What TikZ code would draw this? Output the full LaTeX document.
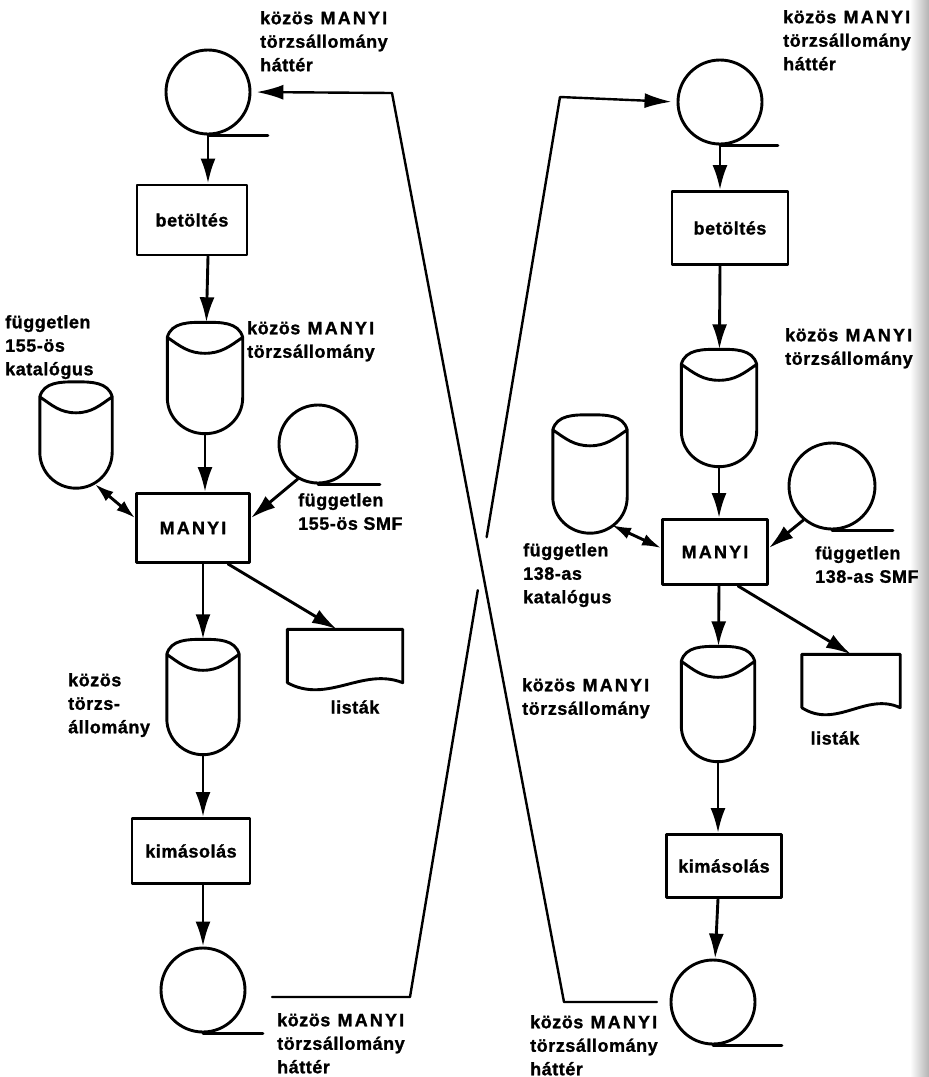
\documentclass[tikz,border=0pt]{standalone}
\usepackage{fontspec}
\setmainfont{Liberation Sans}
\newfontfamily\spaced[LetterSpace=3,BoldFeatures={FakeBold=1.2}]{Liberation Sans}
\newfontfamily\wide[LetterSpace=12,BoldFeatures={FakeBold=1.2}]{Liberation Sans}
\newcommand\MANYI{{\wide MANYI}}
\usetikzlibrary{arrows.meta,calc}

\begin{document}
\begin{tikzpicture}[x=1pt, y=1pt, line cap=round, line join=round,
    every node/.style={font=\spaced\bfseries\fontsize{18}{23.5}\selectfont},
    ln/.style={line width=2.9pt},
    flow/.style={ln, -{Latex[length=25pt,width=15pt]}},
    both/.style={ln, {Latex[length=19pt,width=12pt]}-{Latex[length=19pt,width=12pt]}},
    cross/.style={line width=2.4pt},
    link/.style={cross, -{Latex[length=27pt,width=15pt]}, shorten >=5pt},
    proc/.style={draw, ln, rectangle, inner sep=0pt},
    tape/.style={draw, ln, circle, inner sep=0pt},
    store/.style={rectangle, inner sep=0pt},
    doc/.style={rectangle, inner sep=0pt},
    lbl/.style={align=left, anchor=north west, inner sep=0pt}]
  \clip (0,0) rectangle (929,-1077);
  \fill[white] (0,0) rectangle (929,-1077);
  \shade[left color=white, right color=black!30] (910,0) rectangle (929,-1077);

  % left run (155)
  \node[tape, minimum size=84pt] (tA) at (208,-92) {};
  \node[proc, minimum width=110pt, minimum height=70pt] (bA) at (192,-220) {betöltés};
  \node[store, minimum width=75pt, minimum height=111pt] (dA) at (205,-378) {};
  \node[store, minimum width=72pt, minimum height=106pt] (cA) at (76,-435) {};
  \node[tape, minimum size=78pt] (sA) at (318,-444) {};
  \node[proc, minimum width=113pt, minimum height=69pt] (mA) at (193,-528) {\MANYI};
  \node[doc, minimum width=115pt, minimum height=53pt] (lA) at (345,-656) {};
  \node[store, minimum width=72pt, minimum height=115pt] (eA) at (203,-697) {};
  \node[proc, minimum width=118pt, minimum height=65pt] (kA) at (191,-851) {kimásolás};
  \node[tape, minimum size=84pt] (zA) at (203,-990) {};

  % right run (138)
  \node[tape, minimum size=84pt] (tB) at (720,-102) {};
  \node[proc, minimum width=116pt, minimum height=73pt] (bB) at (730,-228) {betöltés};
  \node[store, minimum width=75pt, minimum height=117pt] (dB) at (719,-408) {};
  \node[store, minimum width=74pt, minimum height=118pt] (cB) at (590,-474) {};
  \node[tape, minimum size=86pt] (sB) at (832,-486) {};
  \node[proc, minimum width=105pt, minimum height=65pt] (mB) at (715,-552) {\MANYI};
  \node[doc, minimum width=98pt, minimum height=53pt] (lB) at (851,-681) {};
  \node[store, minimum width=73pt, minimum height=115pt] (eB) at (718,-704) {};
  \node[proc, minimum width=115pt, minimum height=63pt] (kB) at (724,-866) {kimásolás};
  \node[tape, minimum size=84pt] (zB) at (713,-1002) {};

  % disk outlines
  \foreach \s in {dA,cA,eA,dB,cB,eB}
    \draw[ln] ([yshift=-15pt]\s.north west) to[out=75,in=180] (\s.north)
        to[out=0,in=105] ([yshift=-15pt]\s.north east)
        -- ([yshift=36pt]\s.south east) to[out=-90,in=0] (\s.south)
        to[out=180,in=-90] ([yshift=36pt]\s.south west) -- cycle
      ([yshift=-15pt]\s.north west) to[out=-35,in=180] ([yshift=-31pt]\s.north)
        to[out=0,in=215] ([yshift=-15pt]\s.north east);

  % printout outlines
  \foreach \d in {lA,lB}
    \draw[ln] (\d.south west) -- (\d.north west) -- (\d.north east) -- (\d.south east)
      .. controls ($(\d.south east)!0.35!(\d.south west)+(0,16)$)
      and ($(\d.south east)!0.65!(\d.south west)+(0,-22)$) .. (\d.south west);

  % tape tails
  \foreach \t/\l in {tA/60,sA/62,zA/60,tB/58,sB/61,zB/69}
    \draw[ln] (\t.south) -- ++(\l,0);

  % left flow
  \draw[flow] (tA) -- (tA |- bA.north);
  \draw[flow] (tA |- bA.south) -- (dA);
  \draw[flow] (dA) -- (dA |- mA.north);
  \draw[flow] (eA |- mA.south) -- (eA);
  \draw[flow] (eA) -- (eA |- kA.north);
  \draw[flow] (eA |- kA.south) -- (zA);
  \draw[both] ([shift={(19pt,4pt)}]cA.south) -- ([yshift=10pt]mA.west);
  \draw[flow] (sA.240) -- ([yshift=10pt]mA.east);
  \draw[flow] ([xshift=35pt]mA.south) -- ([xshift=-8pt]lA.north);

  % right flow
  \draw[flow] (tB) -- (tB |- bB.north);
  \draw[flow] (tB |- bB.south) -- (dB);
  \draw[flow] (dB) -- (dB |- mB.north);
  \draw[flow] (dB |- mB.south) -- (eB);
  \draw[flow] (eB) -- (eB |- kB.north);
  \draw[flow] (eB |- kB.south) -- (zB);
  \draw[both] ([shift={(22pt,8pt)}]cB.south) -- ([yshift=4pt]mB.west);
  \draw[flow] (sB.230) -- ([yshift=4pt]mB.east);
  \draw[flow] ([xshift=23pt]mB.south) -- (lB.north);

  % backup exchange between the two runs
  \coordinate (a0) at (657,-1002);
  \coordinate (a1) at (564,-1002);
  \coordinate (a2) at (392,-93);
  \draw[link] (a0) -- (a1) -- (a2) -- (tA.east);
  \coordinate (b0) at (272,-997);
  \coordinate (b1) at (410,-997);
  \coordinate (b2) at (560,-97);
  \draw[cross] (b0) -- (b1) -- ($(b1)!0.452!(b2)$);
  \draw[link] ($(b1)!0.511!(b2)$) -- (b2) -- (tB.west);

  % labels
  \node[lbl] (tAl) at (260,-11) {közös\hspace{.4em}\MANYI\\törzsállomány\\háttér};
  \node[lbl] (dAl) at (247,-321) {közös\hspace{.4em}\MANYI\\törzsállomány};
  \node[lbl] (cAl) at (5,-315) {független\\155-ös\\katalógus};
  \node[lbl] (sAl) at (298,-493) {független\\155-ös SMF};
  \node (lAl) at (355,-707) {listák};
  \node[lbl] (eAl) at (68,-673) {közös\\törzs-\\állomány};
  \node[lbl] (zAl) at (277,-1013) {közös\hspace{.4em}\MANYI\\törzsállomány\\háttér};

  \node[lbl] (tBl) at (783,-10) {közös\hspace{.4em}\MANYI\\törzsállomány\\háttér};
  \node[lbl] (dBl) at (785,-328) {közös\hspace{.4em}\MANYI\\törzsállomány};
  \node[lbl] (cBl) at (523,-543) {független\\138-as\\katalógus};
  \node[lbl] (sBl) at (815,-546) {független\\138-as SMF};
  \node (lBl) at (835,-738) {listák};
  \node[lbl] (eBl) at (522,-678) {közös\hspace{.4em}\MANYI\\törzsállomány};
  \node[lbl] (zBl) at (530,-1015) {közös\hspace{.4em}\MANYI\\törzsállomány\\háttér};
\end{tikzpicture}
\end{document}
